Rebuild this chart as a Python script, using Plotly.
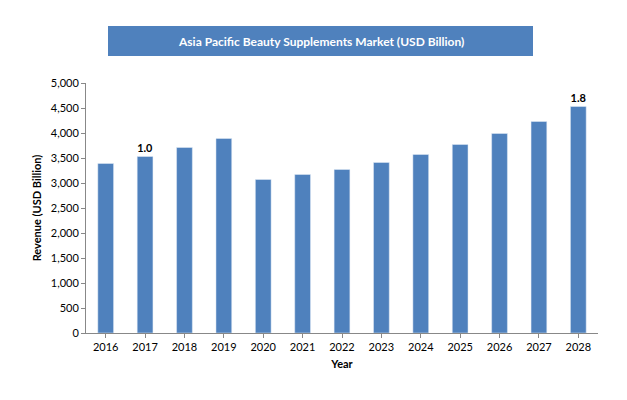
import plotly.graph_objects as go

years = ["2016","2017","2018","2019","2020","2021","2022","2023","2024","2025","2026","2027","2028"]
revenue = [3390,3530,3710,3890,3070,3170,3270,3410,3570,3770,3990,4230,4530]
label_years = ["2017","2028"]
label_texts = ["1.0","1.8"]

texts = ["<b>%s</b>" % label_texts[label_years.index(y)] if y in label_years else "" for y in years]

fig = go.Figure(go.Bar(x=years, y=revenue, marker_color="#4F81BD", width=0.4,
                       text=texts, textposition="outside", cliponaxis=False,
                       textfont=dict(size=11, color="black", family="Lato")))
fig.update_layout(
    width=627, height=400, plot_bgcolor="white", paper_bgcolor="white",
    margin=dict(l=78, r=37, t=75, b=75), showlegend=False,
    font=dict(family="Lato", size=11, color="black"),
    xaxis=dict(title=dict(text="<b>Year</b>", font=dict(size=11), standoff=8), automargin=False,
               showline=True, linecolor="#888", ticks="outside", tickcolor="#888", ticklen=4),
    yaxis=dict(title=dict(text="<b>Revenue (USD Billion)</b>", font=dict(size=11), standoff=6),
               automargin=False,
               range=[0,5000], dtick=500, tickformat=",", showgrid=False,
               showline=True, linecolor="#888", ticks="outside", tickcolor="#888", ticklen=4),
    shapes=[dict(type="rect", xref="paper", yref="paper", x0=(100-78)/512, x1=(525-78)/512,
                 y0=(325-48)/250, y1=(325-18)/250, fillcolor="#4F81BD", line=dict(width=0))],
    annotations=[dict(text="<b>Asia Pacific Beauty Supplements Market (USD Billion)</b>",
                      xref="paper", yref="paper", x=((100+525)/2-78)/512, y=(325-33)/250,
                      xanchor="center", yanchor="middle",
                      showarrow=False, font=dict(color="white", size=12))],
)
fig.write_html("out.html")
